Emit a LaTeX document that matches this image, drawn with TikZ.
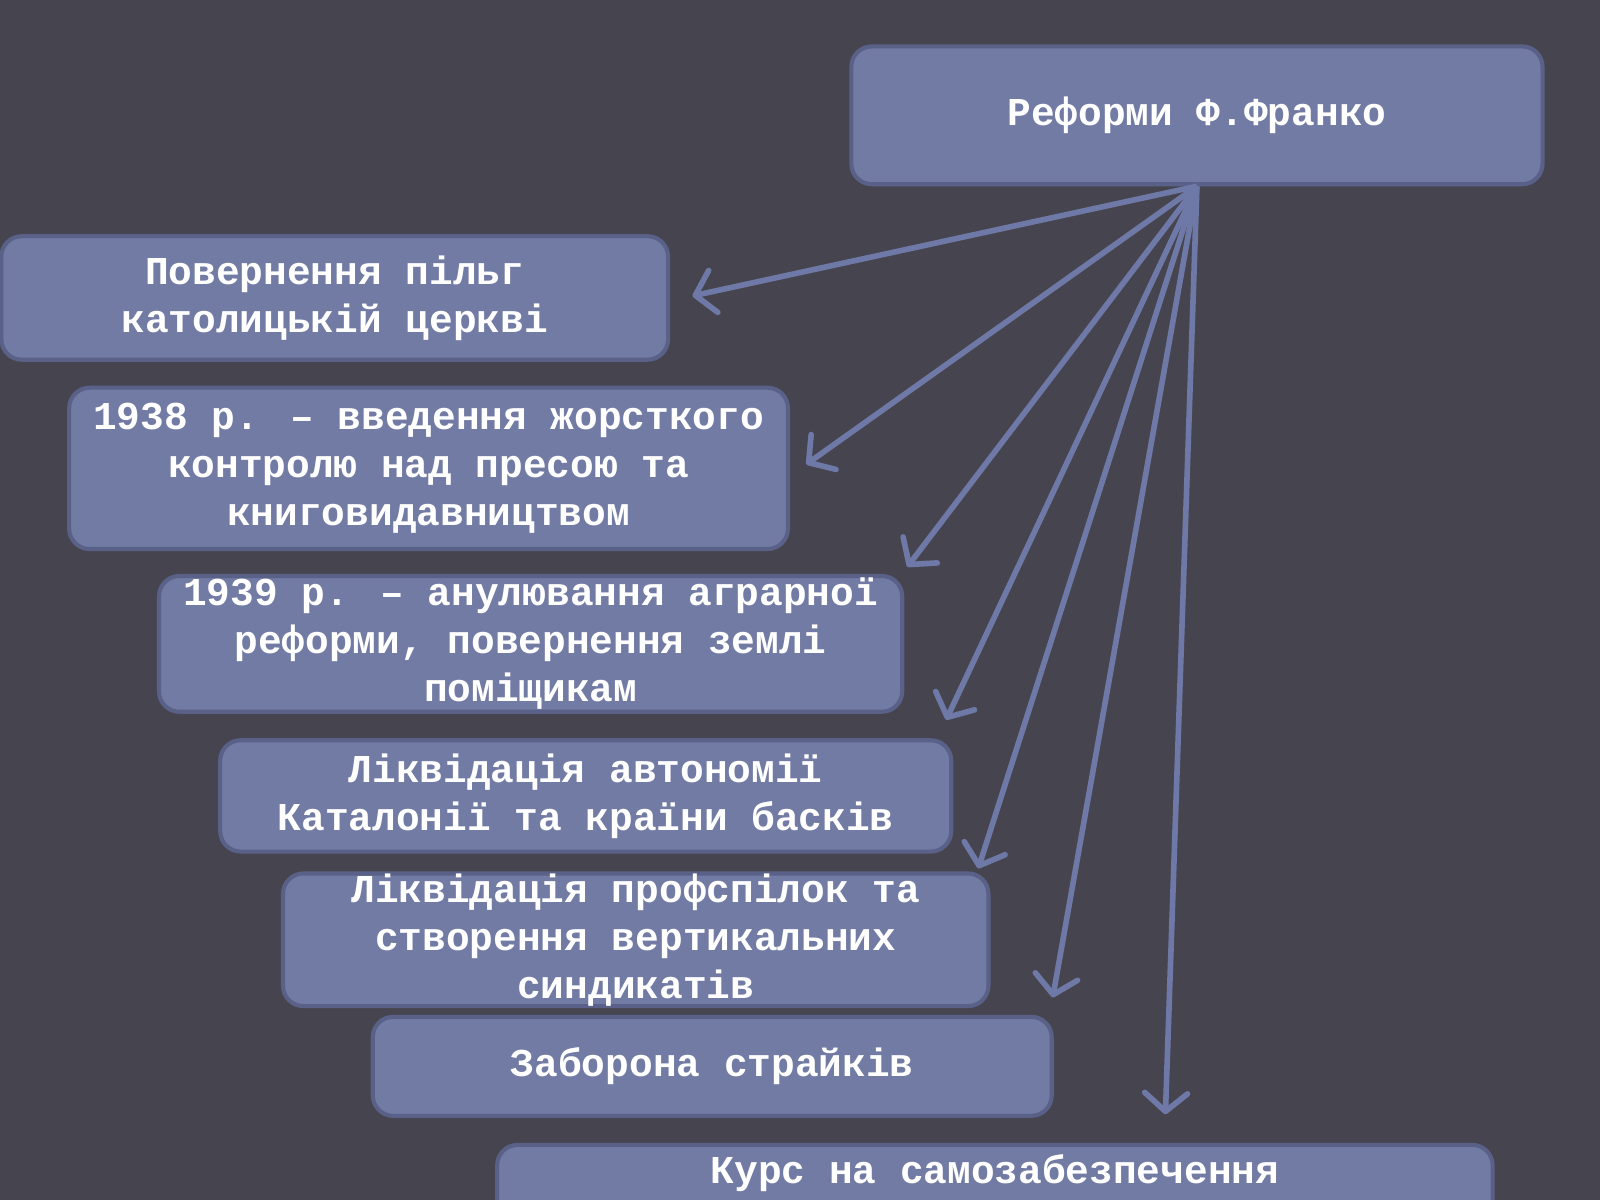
\documentclass[tikz,border=0pt]{standalone}
\usepackage{fontspec}
\setmainfont{Liberation Mono}
\usetikzlibrary{arrows.meta}
\definecolor{slidebg}{HTML}{46454F}
\definecolor{boxfill}{HTML}{727BA3}
\definecolor{boxline}{HTML}{5A6189}
\definecolor{arrowcol}{HTML}{6F79A8}
\begin{document}
\begin{tikzpicture}[x = 0.01cm, y = -0.01cm,
        box/.style = {draw=boxline, fill=boxfill, line width=0.04cm, rounded corners=0.2cm,
                      inner sep=0pt, align=center, text=white,
                      font=\bfseries\fontsize{11}{13.4}\selectfont},
        arr/.style = {draw=arrowcol, line width=0.055cm,
                      -{Straight Barb[length=0.18cm,width=0.42cm,round]}}]
        \useasboundingbox (0,0) rectangle (1568,1176);
        \fill[slidebg] (0,0) rectangle (1568,1176);
        \node[box, minimum width=6.77cm, minimum height=1.35cm] (reforms) at (1173,113) {Реформи Ф.Франко};
        \node[box, minimum width=6.53cm, minimum height=1.21cm] (church)  at ( 328,292) {Повернення пільг\\католицькій церкві};
        \node[box, minimum width=7.04cm, minimum height=1.58cm] (press)   at ( 420,459) {1938 р. – введення жорсткого\\контролю над пресою та\\книговидавництвом};
        \node[box, minimum width=7.28cm, minimum height=1.33cm] (land)    at ( 520,631) {1939 р. – анулювання аграрної\\реформи, повернення землі\\поміщикам};
        \node[box, minimum width=7.16cm, minimum height=1.09cm] (autonomy) at ( 574,780) {Ліквідація автономії\\Каталонії та країни басків};
        \node[box, minimum width=6.91cm, minimum height=1.23cm] (unions)  at ( 623,921) {Ліквідація профспілок та\\створення вертикальних\\синдикатів};
        \node[box, minimum width=6.65cm, minimum height=0.97cm] (strikes) at ( 698,1045) {Заборона страйків};
        \node[box, anchor=north, minimum width=9.75cm, inner ysep=0.1cm,
              text height=0.28cm, text depth=0.7cm] (course) at (975,1120) {Курс на самозабезпечення};
        \coordinate (e1) at ([xshift= 0.22cm, yshift=0.02cm]church.east);
        \coordinate (e2) at ([xshift= 0.16cm, yshift=0.04cm]press.east);
        \coordinate (e3) at ([xshift= 0.03cm, yshift=0.07cm]land.north east);
        \coordinate (e4) at ([xshift=-0.07cm, yshift=0.18cm]autonomy.north east);
        \coordinate (e5) at ([xshift=-0.12cm, yshift=0.03cm]unions.north east);
        \coordinate (e6) at ([xshift=-0.01cm, yshift=0.17cm]strikes.north east);
        \coordinate (e7) at ([xshift= 1.67cm, yshift=0.28cm]course.north);
        \draw[arr] (reforms.south) -- (e1);
        \draw[arr] (reforms.south) -- (e2);
        \draw[arr] (reforms.south) -- (e3);
        \draw[arr] (reforms.south) -- (e4);
        \draw[arr] (reforms.south) -- (e5);
        \draw[arr] (reforms.south) -- (e6);
        \draw[arr] (reforms.south) -- (e7);
      \end{tikzpicture}
\end{document}
